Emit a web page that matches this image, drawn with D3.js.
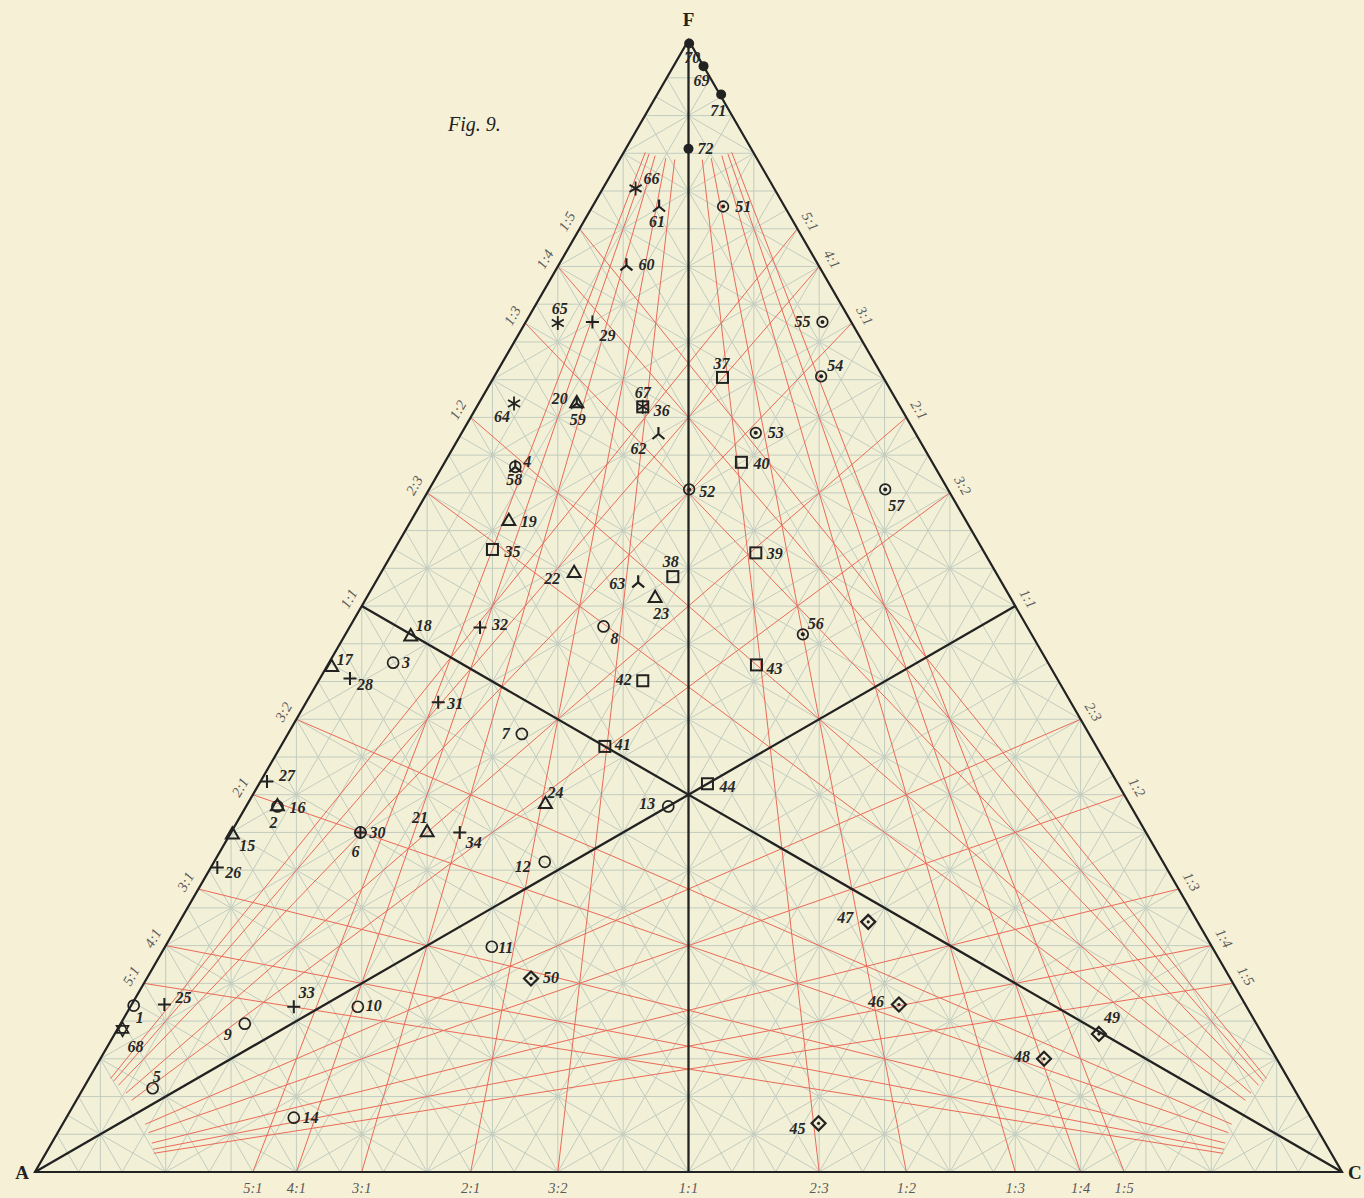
<!DOCTYPE html>
<html>
<head>
<meta charset="utf-8">
<script src="https://cdn.jsdelivr.net/npm/d3@7"></script>
<style>
  body { margin: 0; background: #f6f1d6; }
  svg { display: block; }
  .grid { stroke: #c2ccc0; stroke-width: 1; fill: none; }
  .perp { stroke: #c2ccc0; stroke-width: 1; fill: none; }
  .red { stroke: #ea6a58; stroke-width: 1; fill: none; }
  .frame { stroke: #222; stroke-width: 2.2; fill: none; }
  .median { stroke: #222; stroke-width: 2.3; fill: none; }
  .ratio { font-family: "Liberation Serif", serif; font-style: italic; font-size: 14.5px; fill: #5a5a5a; }
  .num { font-family: "Liberation Serif", serif; font-style: italic; font-weight: bold; font-size: 16px; fill: #262626; }
  .vertex { font-family: "Liberation Serif", serif; font-weight: bold; font-size: 19px; fill: #222; }
  .fig { font-family: "Liberation Serif", serif; font-style: italic; font-size: 20px; fill: #222; }
  .mk { stroke: #222; fill: none; }
</style>
</head>
<body>
<div id="chart"></div>
<script>
// ratio marks on every side (p:q)
const ratios = ["5:1", "4:1", "3:1", "2:1", "3:2", "1:1", "2:3", "1:2", "1:3", "1:4", "1:5"];

// [number, F share, C share]  (A share = rest)
const openCircle = [
  [1, 0.147, 0.002], [2, 0.323, 0.024], [3, 0.450, 0.049], [4, 0.623, 0.056],
  [5, 0.074, 0.053], [6, 0.300, 0.099], [7, 0.387, 0.179], [8, 0.482, 0.194],
  [9, 0.131, 0.095], [10, 0.146, 0.174], [11, 0.199, 0.250], [12, 0.274, 0.253],
  [13, 0.323, 0.323], [14, 0.048, 0.174]
];
const triangle = [
  [15, 0.298, 0.002], [16, 0.323, 0.024], [17, 0.446, 0.004], [18, 0.473, 0.051],
  [19, 0.575, 0.075], [20, 0.679, 0.075], [21, 0.300, 0.150], [22, 0.529, 0.148],
  [23, 0.507, 0.221], [24, 0.325, 0.228]
];
const plus = [
  [25, 0.148, 0.025], [26, 0.269, 0.005], [27, 0.345, 0.005], [28, 0.436, 0.023],
  [29, 0.751, 0.051], [30, 0.300, 0.099], [31, 0.415, 0.101], [32, 0.481, 0.100],
  [33, 0.146, 0.125], [34, 0.300, 0.175]
];
const square = [
  [35, 0.550, 0.075], [36, 0.676, 0.127], [37, 0.702, 0.175], [38, 0.526, 0.225],
  [39, 0.547, 0.278], [40, 0.627, 0.227], [41, 0.376, 0.248], [42, 0.434, 0.248],
  [43, 0.448, 0.328], [44, 0.343, 0.343]
];
const diamond = [
  [45, 0.043, 0.578], [46, 0.148, 0.587], [47, 0.221, 0.527], [48, 0.100, 0.722],
  [49, 0.122, 0.753], [50, 0.171, 0.294]
];
const dotCircle = [
  [51, 0.853, 0.100], [52, 0.603, 0.199], [53, 0.653, 0.225], [54, 0.703, 0.250],
  [55, 0.751, 0.227], [56, 0.475, 0.350], [57, 0.603, 0.349]
];
const triRadiate = [
  [58, 0.623, 0.056], [59, 0.679, 0.075], [60, 0.801, 0.052], [61, 0.853, 0.051],
  [62, 0.652, 0.151], [63, 0.521, 0.201]
];
const asterisk = [
  [64, 0.679, 0.027], [65, 0.750, 0.025], [66, 0.869, 0.025], [67, 0.676, 0.127]
];
const hexagram = [[68, 0.126, 0.004]];
const filledCircle = [
  [69, 0.977, 0.023], [70, 0.997, 0.002], [71, 0.952, 0.049], [72, 0.904, 0.048]
];

// where each number sits relative to its mark (px)
const labelOffset = {
  1: [6, 12], 2: [-4, 16], 3: [13, 0], 4: [12, -5], 5: [4, -12], 6: [-5, 19], 7: [-16, -1],
  8: [11, 12], 9: [-17, 11], 10: [16, -1], 11: [14, 1], 12: [-22, 5], 13: [-21, -3], 14: [17, 0],
  15: [15, 11], 16: [20, 1], 17: [13, -8], 18: [13, -11], 19: [20, 0], 20: [-17, -5],
  21: [-7, -15], 22: [-22, 5], 23: [6, 15], 24: [10, -12],
  25: [19, -7], 26: [16, 5], 27: [20, -6], 28: [15, 6], 29: [15, 13], 30: [17, 0],
  31: [17, 1], 32: [20, -3], 33: [13, -14], 34: [14, 10],
  35: [20, 2], 36: [19, 4], 37: [-1, -14], 38: [-2, -15], 39: [19, 1], 40: [20, 1],
  41: [18, -2], 42: [-19, -1], 43: [18, 3], 44: [20, 3],
  45: [-21, 5], 46: [-23, -3], 47: [-23, -4], 48: [-22, -2], 49: [13, -17], 50: [20, -1],
  51: [20, 0], 52: [18, 2], 53: [20, 0], 54: [14, -11], 55: [-20, -1], 56: [13, -11], 57: [11, 16],
  58: [-1, 13], 59: [1, 16], 60: [20, -1], 61: [-2, 15], 62: [-20, 14], 63: [-21, 1],
  64: [-12, 13], 65: [2, -15], 66: [16, -10], 67: [0, -14], 68: [13, 17],
  69: [-2, 14], 70: [3, 14], 71: [-3, 16], 72: [17, 0]
};

const width = 1364, height = 1198;
const H = Math.sqrt(3) / 2;
const x = d3.scaleLinear().domain([0, 1]).range([35, 1342]);
const y = d3.scaleLinear().domain([0, H]).range([1172, 1172 - 1307 * H]);

const A = [0, 0], C = [1, 0], F = [0.5, H];
const lerp = (p, q, t) => [p[0] + (q[0] - p[0]) * t, p[1] + (q[1] - p[1]) * t];
const tern = (f, c) => [c + f / 2, f * H];
const px = p => [x(p[0]), y(p[1])];
const line = d3.line().x(p => x(p[0])).y(p => y(p[1]));

const svg = d3.select("#chart").append("svg")
  .attr("width", width).attr("height", height);

svg.append("rect").attr("width", width).attr("height", height).attr("fill", "#f6f1d6");
svg.append("path").attr("d", line([A, C, F]) + "Z").attr("fill", "#f2f0d6");

// grey net: lines parallel to sides (30 steps) and perpendicular to sides (20 steps)
const G = [0.5, H / 3];
function rot(p, a) {
  const dx = p[0] - G[0], dy = p[1] - G[1];
  return [G[0] + dx * Math.cos(a) - dy * Math.sin(a), G[1] + dx * Math.sin(a) + dy * Math.cos(a)];
}
const gridG = svg.append("g");
[0, 2 * Math.PI / 3, 4 * Math.PI / 3].forEach(a => {
  for (let k = 1; k < 30; k++) {
    const yy = k / 30 * H;
    const seg = [[yy / Math.sqrt(3), yy], [1 - yy / Math.sqrt(3), yy]].map(p => rot(p, a));
    gridG.append("path").attr("class", "grid").attr("d", line(seg));
  }
  for (let k = 1; k < 20; k++) {
    const xx = k / 20;
    const seg = [[xx, 0], [xx, Math.sqrt(3) * Math.min(xx, 1 - xx)]].map(p => rot(p, a));
    gridG.append("path").attr("class", "perp").attr("d", line(seg));
  }
});

// red ratio lines from each vertex to the opposite side
const sides = [
  {v: F, from: A, to: C},
  {v: A, from: F, to: C},
  {v: C, from: A, to: F}
];
const cut = 0.092;
const redG = svg.append("g");
sides.forEach(s => {
  ratios.forEach(r => {
    if (r === "1:1") return;
    const [p, q] = r.split(":").map(Number);
    const P = lerp(s.from, s.to, q / (p + q));
    const len = Math.hypot(P[0] - s.v[0], P[1] - s.v[1]);
    redG.append("path").attr("class", "red").attr("d", line([lerp(s.v, P, cut / len), P]));
  });
});

// medians and frame
sides.forEach(s => {
  svg.append("path").attr("class", "median").attr("d", line([s.v, lerp(s.from, s.to, 0.5)]));
});
svg.append("path").attr("class", "frame").attr("d", line([A, C, F]) + "Z");

// ratio labels along the sides
ratios.forEach(r => {
  const [p, q] = r.split(":").map(Number);
  const t = q / (p + q);
  const b = px(lerp(A, C, t));
  svg.append("text").attr("class", "ratio").attr("x", b[0]).attr("y", b[1] + 21)
    .attr("text-anchor", "middle").text(r);
  const l = px(lerp(A, F, t));
  const lx = l[0] - 0.866 * 15, ly = l[1] - 0.5 * 15;
  svg.append("text").attr("class", "ratio").attr("text-anchor", "middle").attr("dy", "0.35em")
    .attr("transform", `translate(${lx},${ly}) rotate(-60)`).text(r);
  const rr = px(lerp(F, C, t));
  const rx = rr[0] + 0.866 * 15, ry = rr[1] - 0.5 * 15;
  svg.append("text").attr("class", "ratio").attr("text-anchor", "middle").attr("dy", "0.35em")
    .attr("transform", `translate(${rx},${ry}) rotate(60)`).text(r);
});

// vertex letters and title
const pa = px(A), pc = px(C), pf = px(F);
svg.append("text").attr("class", "vertex").attr("x", pa[0] - 6).attr("y", pa[1] + 7).attr("text-anchor", "end").text("A");
svg.append("text").attr("class", "vertex").attr("x", pc[0] + 6).attr("y", pc[1] + 7).text("C");
svg.append("text").attr("class", "vertex").attr("x", pf[0]).attr("y", pf[1] - 14).attr("text-anchor", "middle").text("F");
svg.append("text").attr("class", "fig").attr("x", 448).attr("y", 131).text("Fig. 9.");

// marks
const markG = svg.append("g");
const draw = {
  openCircle: g => g.append("circle").attr("class", "mk").attr("r", 5.5).attr("stroke-width", 1.7),
  filledCircle: g => g.append("circle").attr("r", 5).attr("fill", "#222"),
  dotCircle: g => {
    g.append("circle").attr("class", "mk").attr("r", 5.3).attr("stroke-width", 1.7);
    g.append("circle").attr("r", 2).attr("fill", "#222");
  },
  triangle: g => g.append("path").attr("class", "mk").attr("stroke-width", 2)
    .attr("d", "M0,-7.5L6.5,3.8L-6.5,3.8Z"),
  plus: g => g.append("path").attr("class", "mk").attr("stroke-width", 2)
    .attr("d", "M-6.5,0H6.5M0,-6.5V6.5"),
  square: g => g.append("rect").attr("class", "mk").attr("stroke-width", 2)
    .attr("x", -5.5).attr("y", -5.5).attr("width", 11).attr("height", 11),
  diamond: g => {
    g.append("path").attr("class", "mk").attr("stroke-width", 2.2).attr("d", "M0,-7L7,0L0,7L-7,0Z");
    g.append("circle").attr("r", 1.6).attr("fill", "#222");
  },
  triRadiate: g => g.append("path").attr("class", "mk").attr("stroke-width", 2.2)
    .attr("d", "M0,0V-7M0,0L-6,5M0,0L6,5"),
  asterisk: g => g.append("path").attr("class", "mk").attr("stroke-width", 1.8)
    .attr("d", "M0,-7V7M-6,-3.5L6,3.5M-6,3.5L6,-3.5"),
  hexagram: g => g.append("path").attr("class", "mk").attr("stroke-width", 1.6)
    .attr("d", "M0,-7L6,3.5L-6,3.5ZM0,7L6,-3.5L-6,-3.5Z")
};
const series = {openCircle, triangle, plus, square, diamond, dotCircle, triRadiate, asterisk, hexagram, filledCircle};
Object.entries(series).forEach(([kind, pts]) => {
  pts.forEach(([n, f, c]) => {
    const p = px(tern(f, c));
    const g = markG.append("g").attr("transform", `translate(${p[0]},${p[1]})`);
    draw[kind](g);
    const o = labelOffset[n];
    markG.append("text").attr("class", "num").attr("x", p[0] + o[0]).attr("y", p[1] + o[1])
      .attr("dy", "0.35em").attr("text-anchor", "middle").text(n);
  });
});
</script>
</body>
</html>
